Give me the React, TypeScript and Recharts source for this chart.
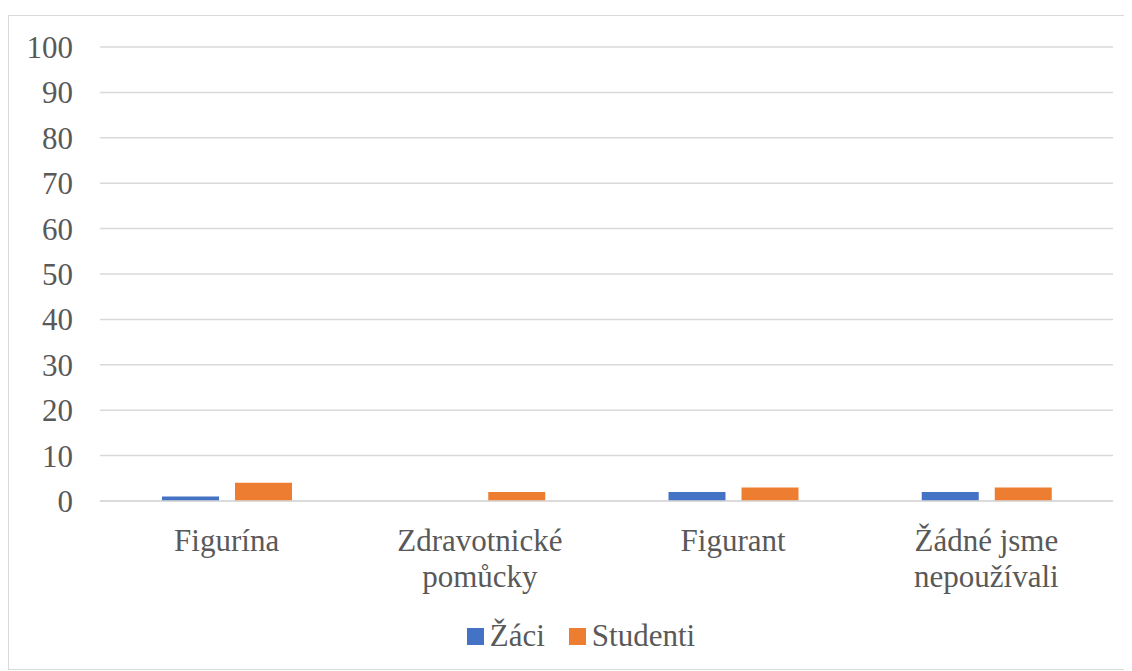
import { BarChart, Bar, XAxis, YAxis, CartesianGrid, Legend } from 'recharts'

const categories = ['Figurína', 'Zdravotnické pomůcky', 'Figurant', 'Žádné jsme nepoužívali']
const zaci = [1, 0, 2, 2]
const studenti = [4, 2, 3, 3]
const yTicks = [0, 10, 20, 30, 40, 50, 60, 70, 80, 90, 100]

const data = categories.map((name, i) => ({ name, zaci: zaci[i], studenti: studenti[i] }))

const FONT = "'Liberation Serif', Tinos, 'Times New Roman', Times, 'DejaVu Serif', serif"
const TEXT = '#595959'
const FS = 31

// split label into lines of at most ~12 chars
function wrap(label: string) {
  const words = label.split(' ')
  const lines: string[] = []
  let cur = ''
  for (const w of words) {
    const next = cur ? cur + ' ' + w : w
    if (cur && next.length > 12) {
      lines.push(cur)
      cur = w
    } else {
      cur = next
    }
  }
  if (cur) lines.push(cur)
  return lines
}

function CategoryTick(props: any) {
  const { x, y, payload } = props
  const lines = wrap(payload.value)
  return (
    <text x={x} y={y} textAnchor="middle" fill={TEXT} fontSize={FS} style={{ fontFamily: FONT }}>
      {lines.map((l, i) => (
        <tspan key={i} x={x} dy={i === 0 ? 42 : 36}>
          {l}
        </tspan>
      ))}
    </text>
  )
}

function LegendContent() {
  const items = [
    { label: 'Žáci', color: '#4472C4' },
    { label: 'Studenti', color: '#ED7D31' },
  ]
  return (
    <div
      style={{
        display: 'flex',
        justifyContent: 'center',
        alignItems: 'center',
        height: 66,
        gap: 24,
        paddingLeft: 40,
        fontFamily: FONT,
        fontSize: FS,
        color: TEXT,
      }}
    >
      {items.map((it) => (
        <div key={it.label} style={{ display: 'flex', alignItems: 'center' }}>
          <span style={{ width: 17, height: 17, background: it.color, marginRight: 6, display: 'inline-block' }} />
          <span>{it.label}</span>
        </div>
      ))}
    </div>
  )
}

export default function App() {
  return (
    <div style={{ marginTop: 7, width: 1120, height: 653, border: '1px solid #d9d9d9', background: '#fff', fontFamily: FONT }}>
      <BarChart
        width={1120}
        height={653}
        data={data}
        margin={{ top: 31, right: 16, left: 0, bottom: 0 }}
        barGap={16}
        barSize={57}
        style={{ fontFamily: FONT }}
      >
        <CartesianGrid vertical={false} stroke="#d9d9d9" strokeWidth={1.5} />
        <XAxis
          dataKey="name"
          axisLine={{ stroke: '#d9d9d9', strokeWidth: 1.5 }}
          tickLine={false}
          tick={<CategoryTick />}
          height={102}
          interval={0}
        />
        <YAxis
          domain={[0, 100]}
          ticks={yTicks}
          width={91}
          axisLine={false}
          tickLine={false}
          tickSize={0}
          tickMargin={27}
          tick={{ fill: TEXT, fontSize: FS, style: { fontFamily: FONT } }}
        />
        <Legend verticalAlign="bottom" height={66} content={<LegendContent />} />
        <Bar dataKey="zaci" name="Žáci" fill="#4472C4" isAnimationActive={false} />
        <Bar dataKey="studenti" name="Studenti" fill="#ED7D31" isAnimationActive={false} />
      </BarChart>
    </div>
  )
}
